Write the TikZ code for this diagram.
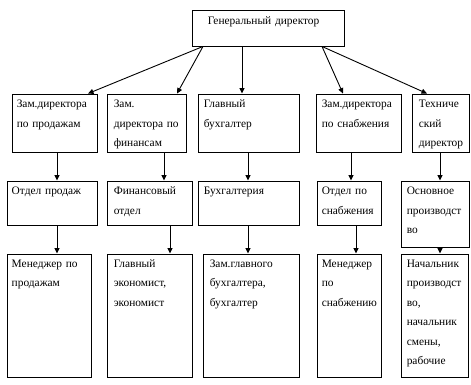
\documentclass[tikz,border=0pt]{standalone}
\usepackage{fontspec}
\setmainfont{Liberation Serif}
\usetikzlibrary{arrows.meta,fit}
\begin{document}
\begin{tikzpicture}[x=1pt,y=-1pt,
  box/.style={draw,line width=0.9pt,inner sep=0pt},
  lbl/.style={inner sep=0pt,anchor=base west,text width=95pt,align=left,
    font=\fontsize{11.4}{19.5}\selectfont},
  arr/.style={line width=0.9pt,-{Triangle[length=5.5pt,width=5pt]}}]
\useasboundingbox (0,0) rectangle (471,385);
% boxes
\node[box,fit={(192,10) (344,46)}] (T) {};
\node[box,fit={(12,94) (97,152)}] (r1a) {};
\node[box,fit={(107,94) (186,152)}] (r1b) {};
\node[box,fit={(198,94) (299,152)}] (r1c) {};
\node[box,fit={(316,94) (401,152)}] (r1d) {};
\node[box,fit={(412,94) (469,152)}] (r1e) {};
\node[box,fit={(7,181) (97,225)}] (r2a) {};
\node[box,fit={(107,181) (192,225)}] (r2b) {};
\node[box,fit={(198,181) (299,225)}] (r2c) {};
\node[box,fit={(317,181) (381,225)}] (r2d) {};
\node[box,fit={(401,181) (469,247)}] (r2e) {};
\node[box,fit={(7,254) (91,377)}] (r3a) {};
\node[box,fit={(107,254) (192,377)}] (r3b) {};
\node[box,fit={(203,254) (299,377)}] (r3c) {};
\node[box,fit={(317,254) (381,377)}] (r3d) {};
\node[box,fit={(401,254) (468,377)}] (r3e) {};
% texts
\node[lbl,text width=140pt] (tT) at ([shift={(16,15)}]T.north west) {Генеральный директор};
\node[lbl] (t1a) at ([shift={(5,14)}]r1a.north west) {Зам.директора\\по продажам};
\node[lbl] (t1b) at ([shift={(7,14)}]r1b.north west) {Зам.\\директора по\\финансам};
\node[lbl] (t1c) at ([shift={(6,14)}]r1c.north west) {Главный\\бухгалтер};
\node[lbl] (t1d) at ([shift={(6,14)}]r1d.north west) {Зам.директора\\по снабжения};
\node[lbl] (t1e) at ([shift={(7,14)}]r1e.north west) {Техниче\\ский\\директор};
\node[lbl] (t2a) at ([shift={(5,14)}]r2a.north west) {Отдел продаж};
\node[lbl] (t2b) at ([shift={(7,14)}]r2b.north west) {Финансовый\\отдел};
\node[lbl] (t2c) at ([shift={(6,14)}]r2c.north west) {Бухгалтерия};
\node[lbl] (t2d) at ([shift={(5,14)}]r2d.north west) {Отдел по\\снабжения};
\node[lbl] (t2e) at ([shift={(6,14)}]r2e.north west) {Основное\\производст\\во};
\node[lbl] (t3a) at ([shift={(5,13.5)}]r3a.north west) {Менеджер по\\продажам};
\node[lbl] (t3b) at ([shift={(7,13.5)}]r3b.north west) {Главный\\экономист,\\экономист};
\node[lbl] (t3c) at ([shift={(7,13.5)}]r3c.north west) {Зам.главного\\бухгалтера,\\бухгалтер};
\node[lbl] (t3d) at ([shift={(5,13.5)}]r3d.north west) {Менеджер\\по\\снабжению};
\node[lbl] (t3e) at ([shift={(6,13.5)}]r3e.north west) {Начальник\\производст\\во,\\начальник\\смены,\\рабочие};
% top arrows
\draw[arr] ([xshift=-65pt]T.south) -- ([xshift=33.5pt]r1a.north);
\draw[arr] ([xshift=-65pt]T.south) -- ([xshift=30.5pt]r1b.north);
\draw[arr] ([xshift=-26pt]T.south) -- ([xshift=-6.5pt]r1c.north);
\draw[arr] ([xshift=54pt]T.south) -- ([xshift=-15.5pt]r1d.north);
\draw[arr] ([xshift=54pt]T.south) -- ([xshift=-13.5pt]r1e.north);
% row1 -> row2
\draw[arr] ([xshift=2.5pt]r1a.south) -- ([xshift=5pt]r2a.north);
\draw[arr] ([xshift=17.5pt]r1b.south) -- ([xshift=14.5pt]r2b.north);
\draw[arr] ([xshift=-0.5pt]r1c.south) -- ([xshift=-0.5pt]r2c.north);
\draw[arr] ([xshift=-7.5pt]r1d.south) -- ([xshift=2pt]r2d.north);
\draw[arr] ([xshift=-0.5pt]r1e.south) -- ([xshift=5pt]r2e.north);
% row2 -> row3
\draw[arr] ([xshift=5pt]r2a.south) -- ([xshift=8pt]r3a.north);
\draw[arr] ([xshift=20.5pt]r2b.south) -- ([xshift=20.5pt]r3b.north);
\draw[arr] ([xshift=-0.5pt]r2c.south) -- ([xshift=-3pt]r3c.north);
\draw[arr] ([xshift=7pt]r2d.south) -- ([xshift=7pt]r3d.north);
\draw[arr] ([xshift=5pt]r2e.south) -- ([xshift=5.5pt]r3e.north);
\end{tikzpicture}
\end{document}
